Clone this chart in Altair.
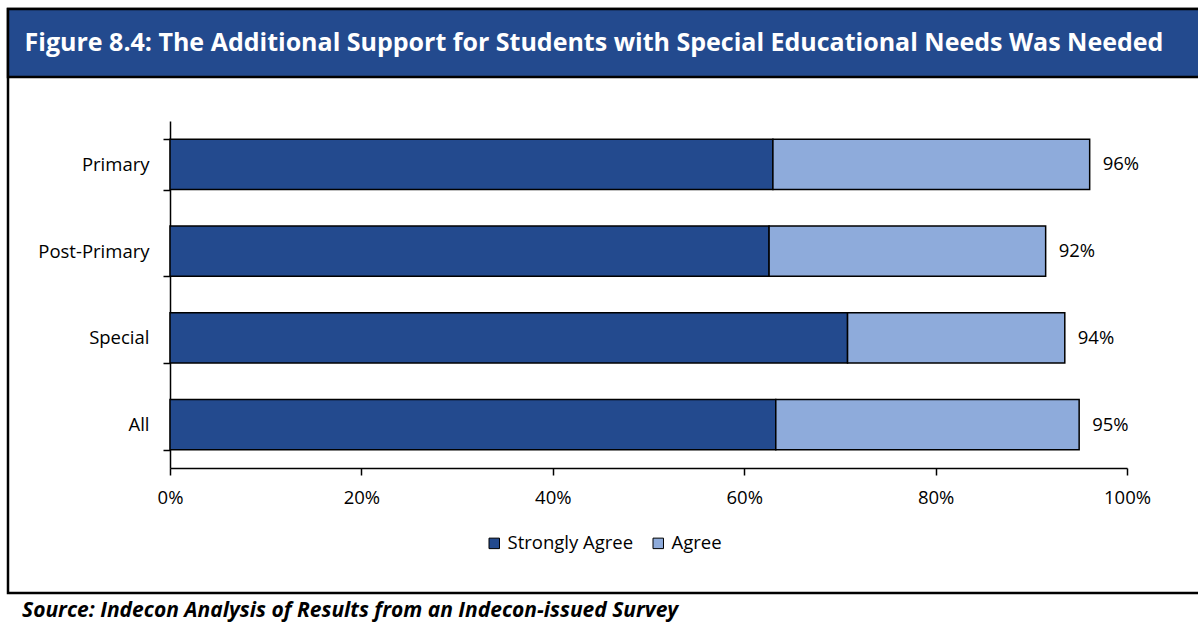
import altair as alt
import pandas as pd

categories = ["Primary", "Post-Primary", "Special", "All"]
strongly_agree = [63.0, 62.6, 70.8, 63.3]
agree = [33.1, 28.9, 22.7, 31.7]
total_labels = ["96%", "92%", "94%", "95%"]
series = ["Strongly Agree", "Agree"]
x_ticks = [0, 20, 40, 60, 80, 100]

title_text = "Figure 8.4: The Additional Support for Students with Special Educational Needs Was Needed"
source_text = "Source: Indecon Analysis of Results from an Indecon-issued Survey"

DARK = "#234A8E"
LIGHT = "#8EABDB"
FONT = "Open Sans"
FS = 18.5

rows = []
for c, s, a in zip(categories, strongly_agree, agree):
    rows.append({"category": c, "response": "Strongly Agree", "value": s, "order": 0})
    rows.append({"category": c, "response": "Agree", "value": a, "order": 1})
df = pd.DataFrame(rows)

df_tot = pd.DataFrame({
    "category": categories,
    "total": [s + a for s, a in zip(strongly_agree, agree)],
    "label": total_labels,
})
dummy = pd.DataFrame({"d": [0]})

y_enc = alt.Y(
    "category:N",
    sort=categories,
    scale=alt.Scale(paddingInner=0.42, paddingOuter=0.21),
    axis=alt.Axis(
        title=None, domainColor="black", domainWidth=1.5, tickColor="black",
        tickWidth=1.5, tickSize=7, tickBand="extent", labelFont=FONT,
        labelFontSize=FS, labelColor="black", labelPadding=14,
    ),
)

bars = alt.Chart(df).mark_bar(stroke="black", strokeWidth=1.5).encode(
    y=y_enc,
    x=alt.X(
        "value:Q", stack="zero",
        scale=alt.Scale(domain=[0, 100], nice=False),
        axis=alt.Axis(
            title=None, values=x_ticks, labelExpr="datum.value + '%'",
            grid=False, domainColor="black", domainWidth=1.5, tickColor="black",
            tickWidth=1.5, tickSize=7, labelFont=FONT, labelFontSize=FS,
            labelColor="black", labelPadding=13, labelFlush=False,
        ),
    ),
    color=alt.Color(
        "response:N",
        scale=alt.Scale(domain=series, range=[DARK, LIGHT]),
        legend=alt.Legend(
            title=None, orient="none", direction="horizontal",
            legendX=315, legendY=413, symbolType="square", symbolSize=110,
            symbolStrokeColor="black", symbolStrokeWidth=1, labelFont=FONT,
            labelFontSize=FS, labelColor="black", columnPadding=15,
            labelOffset=4,
        ),
    ),
    order=alt.Order("order:Q"),
)

labels = alt.Chart(df_tot).mark_text(
    align="left", baseline="middle", dx=13, font=FONT, fontSize=FS, color="black"
).encode(
    y=alt.Y("category:N", sort=categories),
    x=alt.X("total:Q"),
    text="label:N",
)

frame = alt.Chart(dummy).mark_rect(
    fillOpacity=0, stroke="black", strokeWidth=2.5
).encode(
    x=alt.value(-162), x2=alt.value(1040), y=alt.value(-112), y2=alt.value(472)
)

banner = alt.Chart(dummy).mark_rect(
    fill=DARK, stroke="black", strokeWidth=2.5
).encode(
    x=alt.value(-162), x2=alt.value(1040), y=alt.value(-112), y2=alt.value(-44)
)

title = alt.Chart(dummy).mark_text(
    text=title_text, font=FONT, fontWeight="bold", fontSize=25, color="white",
    align="center", baseline="middle",
).encode(x=alt.value(424), y=alt.value(-78))

source = alt.Chart(dummy).mark_text(
    text=source_text, font=FONT, fontWeight="bold", fontStyle="italic",
    fontSize=21, color="black", align="left", baseline="middle",
).encode(x=alt.value(-148), y=alt.value(490))

chart = alt.layer(frame, banner, bars, labels, title, source).properties(
    width=957, height=347,
    autosize=alt.AutoSizeParams(type="none"),
    padding={"left": 170, "top": 121, "right": 71, "bottom": 156},
    background="white",
).configure_view(stroke=None)

chart.save("out.html", embed_options={"renderer": "svg", "actions": False})
